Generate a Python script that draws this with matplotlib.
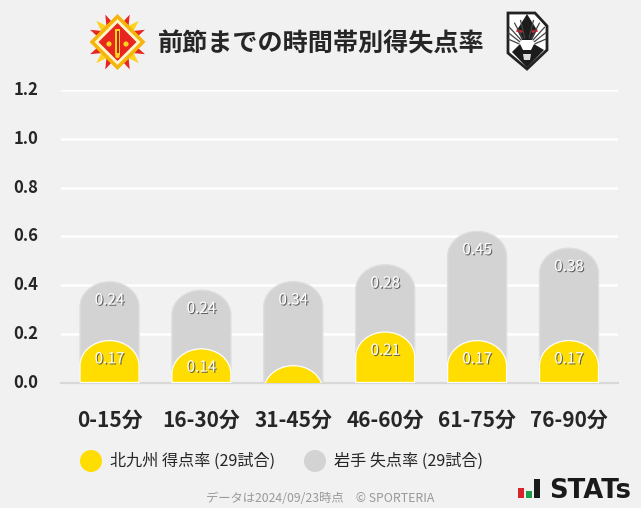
import numpy as np
import matplotlib
matplotlib.use("Agg")
import matplotlib.pyplot as plt
from matplotlib.path import Path
from matplotlib.patches import PathPatch, Polygon, Circle, Rectangle
from matplotlib.transforms import ScaledTranslation
import matplotlib.patheffects as pe

categories = ["0-15分", "16-30分", "31-45分", "46-60分", "61-75分", "76-90分"]
goals_for = [0.172, 0.138, 0.069, 0.207, 0.172, 0.172]
goals_against = [0.241, 0.241, 0.345, 0.276, 0.448, 0.379]
goals_for_labels = ["0.17", "0.14", "", "0.21", "0.17", "0.17"]
goals_against_labels = ["0.24", "0.24", "0.34", "0.28", "0.45", "0.38"]
yticks = [0.0, 0.2, 0.4, 0.6, 0.8, 1.0, 1.2]
title = "前節までの時間帯別得失点率"
legend_labels = ["北九州 得点率 (29試合)", "岩手 失点率 (29試合)"]
footer = "データは2024/09/23時点　© SPORTERIA"

FONT = ["Noto Sans CJK JP", "DejaVu Sans"]
plt.rcParams["font.family"] = FONT
W, H = 641, 508
BG = "#f1f1f1"
YEL = "#ffdd00"
GRY = "#d3d3d3"
INK = "#262626"

fig = plt.figure(figsize=(W / 100, H / 100), dpi=100, facecolor=BG)
L, R, T, B = 61, 618, 90, 382.5
ax = fig.add_axes([L / W, 1 - B / H, (R - L) / W, (B - T) / H], facecolor="none")
ax.set_xlim(-0.528, 5.533)
ax.set_ylim(0, 1.2)
for s in ax.spines.values():
    s.set_visible(False)
ax.spines["bottom"].set_visible(True)
ax.spines["bottom"].set_color("#d8d8d8")
ax.spines["bottom"].set_linewidth(1.6)
ax.set_yticks(yticks)
ax.set_yticklabels([f"{v:.1f}" for v in yticks], fontsize=12, fontweight="bold", color=INK)
ax.set_xticks(range(len(categories)))
ax.set_xticklabels(categories, fontsize=15, fontweight="bold", color=INK)
ax.tick_params(axis="both", length=0)
ax.tick_params(axis="y", pad=16.5)
ax.tick_params(axis="x", pad=20)
ax.grid(axis="y", color="white", linewidth=1.8, zorder=0)
ax.set_axisbelow(True)
ax.yaxis.get_gridlines()[0].set_visible(False)
for lab in ax.get_yticklabels():
    lab.set_transform(lab.get_transform() + ScaledTranslation(0, 1.8 / 100, fig.dpi_scale_trans))

BW = 59 / 91.9               # bar width in category units
CAP = 25 / 243.75            # height of rounded cap in value units
K = 0.5523


def round_bar(xc, top, face, edge, lw, z):
    """Bar from 0 to top with an elliptical cap; clipped at the baseline."""
    hw = BW / 2
    s = top - CAP
    verts = [(xc - hw, min(0, s)), (xc - hw, s),
             (xc - hw, s + K * CAP), (xc - K * hw, top), (xc, top),
             (xc + K * hw, top), (xc + hw, s + K * CAP), (xc + hw, s),
             (xc + hw, min(0, s)), (xc - hw, min(0, s))]
    codes = [Path.MOVETO, Path.LINETO, Path.CURVE4, Path.CURVE4, Path.CURVE4,
             Path.CURVE4, Path.CURVE4, Path.CURVE4, Path.LINETO, Path.CLOSEPOLY]
    p = PathPatch(Path(verts, codes), facecolor=face, edgecolor=edge, linewidth=lw, zorder=z)
    ax.add_patch(p)
    p.set_clip_path(Rectangle((-1, 0), 8, 2, transform=ax.transData))


shadow = [pe.withSimplePatchShadow(offset=(0.8, -0.8), shadow_rgbFace="#555555", alpha=0.9)]
for i, (f, a) in enumerate(zip(goals_for, goals_against)):
    round_bar(i, f + a, GRY, "#dedede", 1.0, 2)
    round_bar(i, f, YEL, "white", 0.9, 3)
    ax.text(i, f + a - 0.075, goals_against_labels[i], ha="center", va="center", fontsize=11,
            color="white", path_effects=shadow, zorder=5)
    if goals_for_labels[i]:
        ax.text(i, f - 0.075, goals_for_labels[i], ha="center", va="center", fontsize=11,
                color="white", path_effects=shadow, zorder=5)

# Overlay in pixel coordinates for title, legend, logos, footer
ov = fig.add_axes([0, 0, 1, 1], facecolor="none")
ov.set_xlim(0, W)
ov.set_ylim(H, 0)
ov.axis("off")

ov.text(321, 43.5, title, ha="center", va="center", fontsize=18.1, fontweight="bold", color=INK)

ov.add_patch(Circle((91, 461), 11, color=YEL, lw=0))
ov.add_patch(Circle((315, 461), 11, color=GRY, lw=0))
ov.text(110, 461, legend_labels[0], ha="left", va="center", fontsize=11.6, color=INK)
ov.text(334, 461, legend_labels[1], ha="left", va="center", fontsize=11.6, color=INK)
ov.text(320.5, 498.5, footer, ha="center", va="center", fontsize=8.85, color="#999999")

# STATS mark
ov.add_patch(Rectangle((518, 488), 6, 9.5, color="#d8232a", lw=0))
ov.add_patch(Rectangle((526, 491), 6, 6.5, color="#1f9e4a", lw=0))
ov.add_patch(Rectangle((534, 478.5), 6, 19, color="#1a1a1a", lw=0))
ov.text(549, 497.5, "STATs", ha="left", va="baseline", fontsize=18.6, fontweight="bold",
        family="DejaVu Sans", color="#1a1a1a")

# Kitakyushu crest
cx, cy = 117.5, 42
for q in range(4):
    base = np.pi / 2 * q
    for deg, col in ((24, "#e8251f"), (45, "#ffd21e"), (66, "#e8251f")):
        th = base + np.radians(deg)
        w = 0.36
        pts = [(cx + 15 * np.cos(th - w), cy + 15 * np.sin(th - w)),
               (cx + 30 * np.cos(th), cy + 30 * np.sin(th)),
               (cx + 15 * np.cos(th + w), cy + 15 * np.sin(th + w))]
        ov.add_patch(Polygon(pts, color=col, lw=0))


def diamond(r, col):
    ov.add_patch(Polygon([(cx, cy - r), (cx + r, cy), (cx, cy + r), (cx - r, cy)], color=col, lw=0))


diamond(28, "#f5b50a")
diamond(23, "#fff6cc")
diamond(19, "#e8251f")
ov.add_patch(Rectangle((cx - 2.5, cy - 13), 5, 26, color="#ffd21e", lw=0))
ov.add_patch(Rectangle((cx - 1, cy - 11), 2, 22, color="#c81e1e", lw=0))
for dx in (-8.5, 8.5):
    ov.add_patch(Circle((cx + dx, cy + 2), 2.6, color="#ffd21e", lw=0))
ov.add_patch(Circle((cx, cy + 14), 2.2, color="#ffd21e", lw=0))

# Iwate crest
ov.add_patch(Polygon([(508, 13), (535, 13), (547, 26), (547, 50), (527, 69), (508, 53)],
                     facecolor="white", edgecolor="#222222", linewidth=2))
for deg in (-165, -150, -135, -120, -105, -75, -60, -45, -30, -15):
    th = np.radians(deg)
    ov.plot([527 + 8 * np.cos(th), 527 + 19 * np.cos(th) / max(abs(np.cos(th)), 0.75)],
            [46 + 8 * np.sin(th), 46 + 27 * np.sin(th)], color="#444444", lw=0.9,
            solid_capstyle="butt")
ov.add_patch(Polygon([(527, 14), (537, 30), (532, 40), (522, 40), (517, 30)], color="#1c1c1c", lw=0))
ov.add_patch(Polygon([(512, 52), (520, 44), (523, 50), (531, 50), (534, 44), (544, 50), (527, 67.5)],
                     color="#1c1c1c", lw=0))
ov.add_patch(Polygon([(517, 29), (523, 31), (522, 33), (516, 31.5)], color="#d8232a", lw=0))
ov.add_patch(Polygon([(537, 29), (531, 31), (532, 33), (538, 31.5)], color="#d8232a", lw=0))
ov.add_patch(Polygon([(523, 54), (531, 54), (530, 60), (524, 60)], color="#dddddd", lw=0))

fig.savefig("out.png", dpi=100, facecolor=BG)
